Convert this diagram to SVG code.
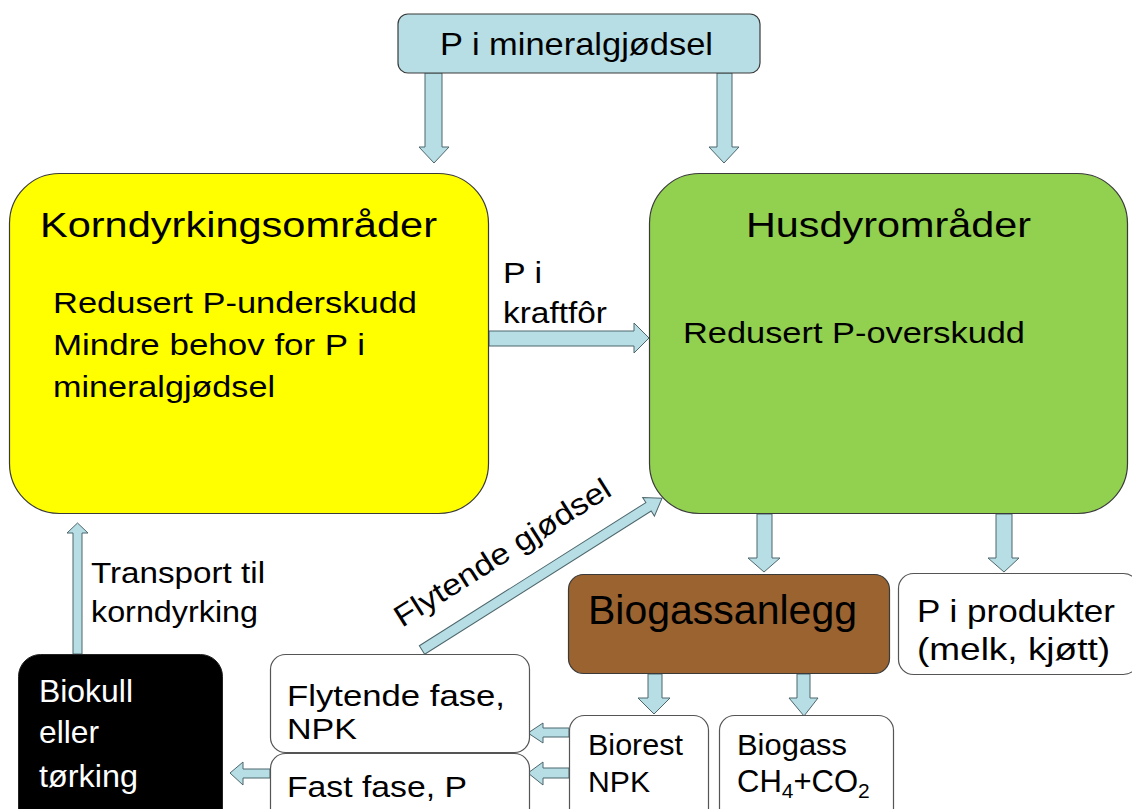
<svg xmlns="http://www.w3.org/2000/svg" width="1132" height="809" viewBox="0 0 1132 809">
<style>
text{font-family:"Liberation Sans",Arial,sans-serif;fill:#000}
.arr{fill:#b7dee5;stroke:#4d666c;stroke-width:1}
.box{stroke:#3a3a3a;stroke-width:1.2}
.wbox{fill:#fff;stroke:#555;stroke-width:1.2}
.t30{font-size:30px}
.t29{font-size:30px}
.wt{font-size:32px;fill:#fff}
</style>
<rect width="1132" height="809" fill="#fff"/>
<g id="connectors">
  <path class="arr" d="M425,73 V147 H419 L434,163 L449,147 H442 V73 Z"/>
  <path class="arr" d="M717,73 V147 H709 L724,163 L739,147 H732 V73 Z"/>
  <path class="arr" d="M489,331 H634 V323 L649,338 L634,353 V346 H489 Z"/>
  <path class="arr" d="M757,514 V558 H748 L764,572 L780,558 H772 V514 Z"/>
  <path class="arr" d="M996,514 V558 H988 L1004,572 L1019,558 H1012 V514 Z"/>
  <path class="arr" d="M648,674 V698 H638 L654,714 L670,698 H662 V674 Z"/>
  <path class="arr" d="M797,674 V698 H789 L804,716 L818,698 H810 V674 Z"/>
  <path class="arr" d="M569,728 H543 V723 L528,733 L543,743 V737 H569 Z"/>
  <path class="arr" d="M569,768 H543 V762 L528,773 L543,785 V778 H569 Z"/>
  <path class="arr" d="M270,769 H243 V762 L230,773 L243,785 V778 H270 Z"/>
  <path class="arr" d="M73,654 V533 H67 L77.5,523 L88,533 H82 V654 Z"/>
  <path class="arr" transform="translate(422,650) rotate(-32.3)" d="M0,-5 H268 V-11 L284,0 L268,11 V5 H0 Z"/>
  <text class="t30" transform="translate(402,628) rotate(-32.3)" textLength="250" lengthAdjust="spacingAndGlyphs">Flytende  gjødsel</text>
  <text class="t30" x="503" y="283" textLength="39" lengthAdjust="spacingAndGlyphs">P i</text>
  <text class="t30" x="503" y="323" textLength="104" lengthAdjust="spacingAndGlyphs">kraftfôr</text>
  <text class="t30" x="91" y="583" textLength="174" lengthAdjust="spacingAndGlyphs">Transport til</text>
  <text class="t30" x="91" y="622" textLength="167" lengthAdjust="spacingAndGlyphs">korndyrking</text>
</g>
<g id="mineral">
  <rect class="box" x="398" y="14" width="362" height="59" rx="10" fill="#b7dde5"/>
  <text x="440" y="55" font-size="32" textLength="273" lengthAdjust="spacingAndGlyphs">P i mineralgjødsel</text>
</g>
<g id="korn">
  <rect class="box" x="9.5" y="173.5" width="479" height="340" rx="50" fill="#ffff00"/>
  <text x="40" y="237" font-size="35" textLength="397" lengthAdjust="spacingAndGlyphs">Korndyrkingsområder</text>
  <text class="t30" x="53" y="313" textLength="364" lengthAdjust="spacingAndGlyphs">Redusert P-underskudd</text>
  <text class="t30" x="53" y="355" textLength="312" lengthAdjust="spacingAndGlyphs">Mindre behov for P i</text>
  <text class="t30" x="53" y="397" textLength="222" lengthAdjust="spacingAndGlyphs">mineralgjødsel</text>
</g>
<g id="husdyr">
  <rect class="box" x="649.5" y="173.5" width="478" height="340" rx="50" fill="#92d050"/>
  <text x="746" y="237" font-size="35" textLength="285" lengthAdjust="spacingAndGlyphs">Husdyrområder</text>
  <text class="t30" x="683" y="343" textLength="342" lengthAdjust="spacingAndGlyphs">Redusert P-overskudd</text>
</g>
<g id="biogassanlegg">
  <rect class="box" x="568.5" y="574.5" width="321" height="99" rx="15" fill="#9a6330"/>
  <text x="588" y="624" font-size="40" textLength="269" lengthAdjust="spacingAndGlyphs">Biogassanlegg</text>
</g>
<g id="produkter">
  <rect class="wbox" x="898.5" y="573.5" width="240" height="101" rx="15"/>
  <text x="917" y="622" font-size="32" textLength="198" lengthAdjust="spacingAndGlyphs">P i produkter</text>
  <text x="917" y="660" font-size="32" textLength="193" lengthAdjust="spacingAndGlyphs">(melk, kjøtt)</text>
</g>
<g id="biorest">
  <rect class="wbox" x="569.5" y="715.5" width="139" height="120" rx="15"/>
  <text class="t29" x="588" y="755" textLength="95" lengthAdjust="spacingAndGlyphs">Biorest</text>
  <text class="t29" x="588" y="792" textLength="62" lengthAdjust="spacingAndGlyphs">NPK</text>
</g>
<g id="biogass">
  <rect class="wbox" x="719.5" y="715.5" width="174" height="120" rx="15"/>
  <text class="t29" x="737" y="755" textLength="110" lengthAdjust="spacingAndGlyphs">Biogass</text>
  <text x="737" y="792" font-size="31">CH<tspan font-size="21" dy="6">4</tspan><tspan dy="-6">+CO</tspan><tspan font-size="21" dy="6">2</tspan></text>
</g>
<g id="flytende">
  <rect class="wbox" x="270.5" y="654.5" width="259" height="98" rx="15"/>
  <text class="t30" x="287" y="706" textLength="218" lengthAdjust="spacingAndGlyphs">Flytende fase,</text>
  <text class="t30" x="287" y="739" textLength="70" lengthAdjust="spacingAndGlyphs">NPK</text>
</g>
<g id="fast">
  <rect class="wbox" x="270.5" y="753.5" width="259" height="80" rx="15"/>
  <text class="t30" x="287" y="797" textLength="180" lengthAdjust="spacingAndGlyphs">Fast fase, P</text>
</g>
<g id="biokull">
  <rect x="18.5" y="654.5" width="204" height="180" rx="22" fill="#000" stroke="#222"/>
  <text class="wt" x="39" y="702" textLength="94" lengthAdjust="spacingAndGlyphs">Biokull</text>
  <text class="wt" x="39" y="743" textLength="60" lengthAdjust="spacingAndGlyphs">eller</text>
  <text class="wt" x="39" y="787" textLength="99" lengthAdjust="spacingAndGlyphs">tørking</text>
</g>
</svg>
